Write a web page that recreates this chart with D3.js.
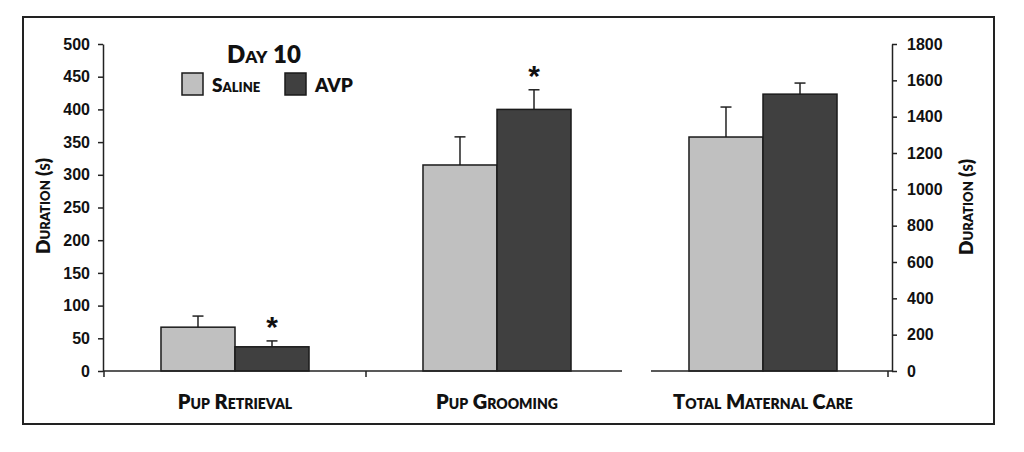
<!DOCTYPE html>
<html>
<head>
<script src="https://d3js.org/d3.v7.min.js"></script>
<style>
  body { margin: 0; background: #fff; }
  text { font-family: "Liberation Sans", Arial, sans-serif; font-weight: bold; fill: #111; }
  .sc { font-family: "Lato", "Open Sans", sans-serif; font-variant: small-caps; font-weight: 800; }
</style>
</head>
<body>
<svg width="1024" height="452"></svg>
<script>
const leftCategories = ["Pup Retrieval", "Pup Grooming"];
const rightCategories = ["Total Maternal Care"];
const series = ["Saline", "AVP"];
const salineMeans = [67, 315, 1288];
const salineErr = [17, 43, 165];
const avpMeans = [37, 400, 1524];
const avpErr = [9, 30, 61];
const avpSignificant = [true, true, false];
const leftTicks = [0, 50, 100, 150, 200, 250, 300, 350, 400, 450, 500];
const rightTicks = [0, 200, 400, 600, 800, 1000, 1200, 1400, 1600, 1800];

const colors = { Saline: "#c0c0c0", AVP: "#404040" };

const svg = d3.select("svg");

// outer frame
svg.append("rect")
  .attr("x", 23).attr("y", 17).attr("width", 971).attr("height", 407)
  .attr("fill", "none").attr("stroke", "#222").attr("stroke-width", 2);

const yL = d3.scaleLinear().domain([0, 500]).range([371, 44]);
const yR = d3.scaleLinear().domain([0, 1800]).range([371, 44]);

const xL = d3.scaleBand().domain(leftCategories).range([104, 628])
  .paddingInner(0.435).paddingOuter(0.2175);
const xR = d3.scaleBand().domain(rightCategories).range([632, 894])
  .paddingInner(0.435).paddingOuter(0.2175);
const xs = d3.scaleBand().domain(series).range([0, xL.bandwidth()]);

// rows: one per bar
const allCats = leftCategories.concat(rightCategories);
const rows = [];
allCats.forEach((c, i) => {
  const left = i < leftCategories.length;
  rows.push({ cat: c, s: "Saline", v: salineMeans[i], e: salineErr[i], sig: false, x: left ? xL : xR, y: left ? yL : yR });
  rows.push({ cat: c, s: "AVP", v: avpMeans[i], e: avpErr[i], sig: avpSignificant[i], x: left ? xL : xR, y: left ? yL : yR });
});

// error bars (drawn first so bar covers bottom)
const eb = svg.append("g").attr("stroke", "#222").attr("stroke-width", 1.5);
rows.forEach(d => {
  const cx = d.x(d.cat) + xs(d.s) + xs.bandwidth() / 2;
  eb.append("line").attr("x1", cx).attr("x2", cx)
    .attr("y1", d.y(d.v)).attr("y2", d.y(d.v + d.e));
  eb.append("line").attr("x1", cx - 5.5).attr("x2", cx + 5.5)
    .attr("y1", d.y(d.v + d.e)).attr("y2", d.y(d.v + d.e));
});

svg.append("g").selectAll("rect")
  .data(rows)
  .join("rect")
  .attr("x", d => d.x(d.cat) + xs(d.s))
  .attr("y", d => d.y(d.v))
  .attr("width", xs.bandwidth())
  .attr("height", d => d.y(0) - d.y(d.v))
  .attr("fill", d => colors[d.s])
  .attr("stroke", "#1a1a1a")
  .attr("stroke-width", 1.5);

// significance stars
svg.append("g").selectAll("text")
  .data(rows.filter(d => d.sig))
  .join("text")
  .attr("x", d => d.x(d.cat) + xs(d.s) + xs.bandwidth() / 2)
  .attr("y", d => d.y(d.v + d.e) - 4)
  .attr("text-anchor", "middle")
  .style("font-size", "30px")
  .text("*");

// left axis
const axL = svg.append("g").attr("transform", "translate(103,0)")
  .call(d3.axisLeft(yL).tickValues(leftTicks).tickSize(5).tickPadding(8).tickSizeOuter(0));
axL.selectAll("text").style("font-size", "16px");

// right axis
const axR = svg.append("g").attr("transform", "translate(892,0)")
  .call(d3.axisRight(yR).tickValues(rightTicks).tickFormat(d3.format("d"))
    .tickSize(5).tickPadding(10).tickSizeOuter(0));
axR.selectAll("text").style("font-size", "16px");

svg.selectAll(".domain, .tick line").attr("stroke", "#222").attr("stroke-width", 1.5);

// baselines
const base = svg.append("g").attr("stroke", "#222").attr("stroke-width", 1.5);
base.append("line").attr("x1", 103).attr("x2", 622).attr("y1", yL(0)).attr("y2", yL(0));
base.append("line").attr("x1", 651).attr("x2", 892).attr("y1", yR(0)).attr("y2", yR(0));
[xL.range()[0], xL.range()[0] + xL.step()].forEach(x => {
  base.append("line").attr("x1", x).attr("x2", x).attr("y1", yL(0)).attr("y2", yL(0) + 6);
});
base.append("line").attr("x1", 888).attr("x2", 888).attr("y1", yR(0)).attr("y2", yR(0) + 6);

// category labels
svg.append("g").selectAll("text")
  .data(allCats)
  .join("text")
  .attr("class", "sc")
  .attr("x", (c, i) => (i < leftCategories.length ? xL(c) : xR(c)) + xL.bandwidth() / 2)
  .attr("y", 409)
  .attr("text-anchor", "middle")
  .style("font-size", "20px")
  .text(c => c);

// axis titles
svg.append("text").attr("class", "sc")
  .attr("transform", "translate(50,206) rotate(-90)")
  .attr("text-anchor", "middle").style("font-size", "19px")
  .text("Duration (s)");
svg.append("text").attr("class", "sc")
  .attr("transform", "translate(973,207) rotate(-90)")
  .attr("text-anchor", "middle").style("font-size", "19px")
  .text("Duration (s)");

// title + legend
svg.append("text").attr("class", "sc")
  .attr("x", 264).attr("y", 63).attr("text-anchor", "middle")
  .style("font-size", "24px").text("Day 10");

const lg = svg.append("g");
const legendX = [182, 285];
series.forEach((s, i) => {
  lg.append("rect").attr("x", legendX[i]).attr("y", 73).attr("width", 21).attr("height", 22)
    .attr("fill", colors[s]).attr("stroke", "#1a1a1a").attr("stroke-width", 1.5);
  lg.append("text").attr("class", "sc").attr("x", legendX[i] + 30).attr("y", 92)
    .style("font-size", "19px").text(s);
});
</script>
</body>
</html>
